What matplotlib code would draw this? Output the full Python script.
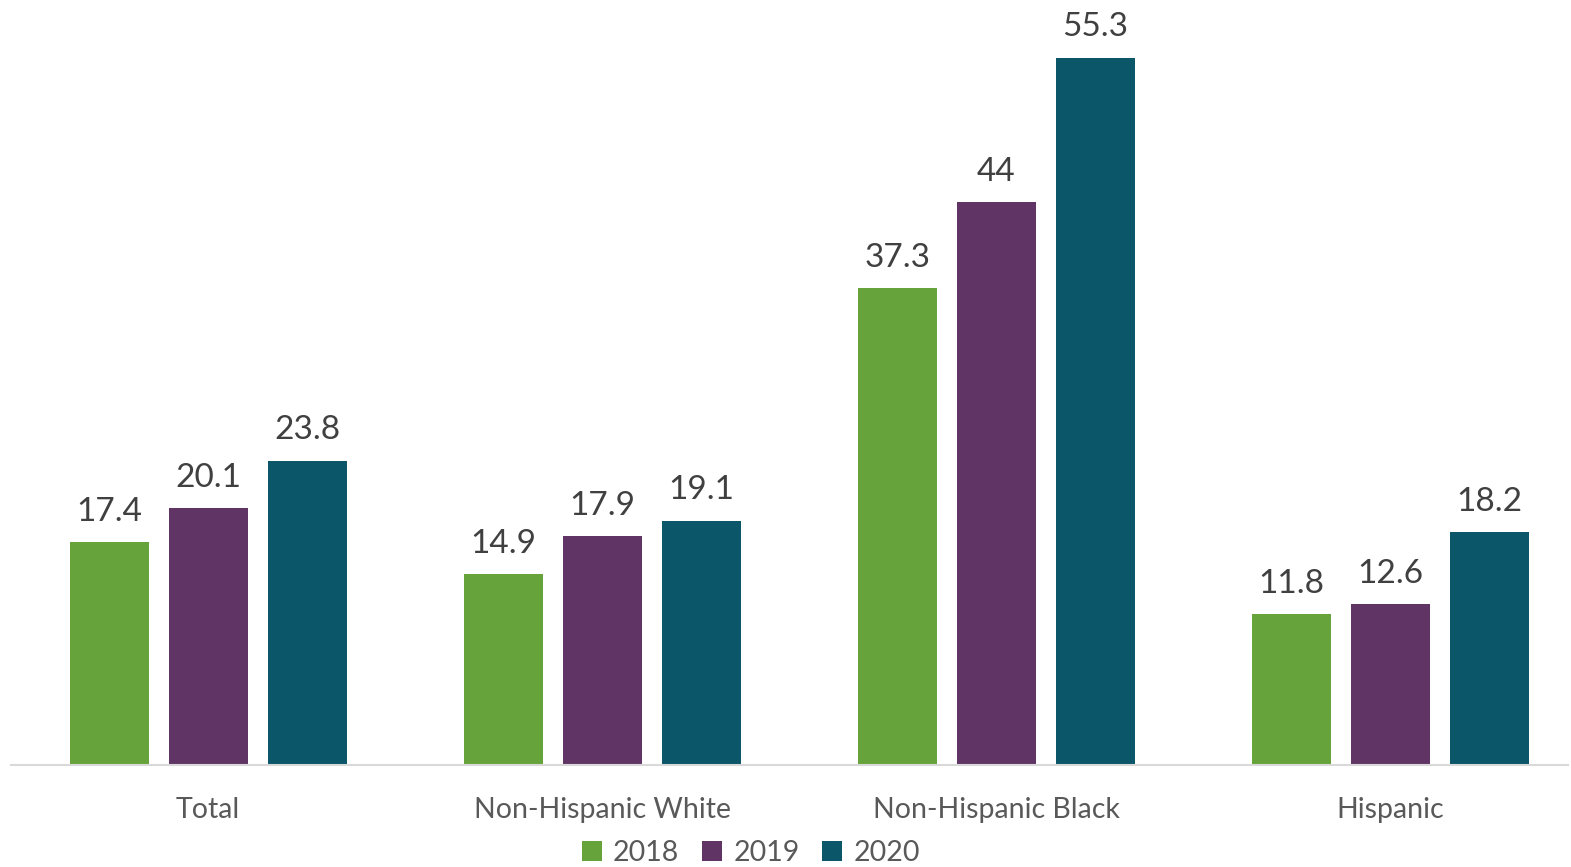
import numpy as np
import matplotlib.pyplot as plt

categories = ["Total", "Non-Hispanic White", "Non-Hispanic Black", "Hispanic"]
years = ["2018", "2019", "2020"]
v2018 = [17.4, 14.9, 37.3, 11.8]
v2019 = [20.1, 17.9, 44, 12.6]
v2020 = [23.8, 19.1, 55.3, 18.2]
colors = ["#66A33A", "#603565", "#0B5668"]

plt.rcParams['font.family'] = ['Lato', 'DejaVu Sans']

fig = plt.figure(figsize=(15.71, 8.67), dpi=100)
ax = fig.add_axes([11 / 1571, 1 - 765 / 867, 1557 / 1571, 765 / 867])

x = np.arange(len(categories))
w = 79 / 394
step = 99 / 394
for i, (vals, yr, c) in enumerate(zip([v2018, v2019, v2020], years, colors)):
    bars = ax.bar(x + (i - 1) * step, vals, w, color=c, label=yr, zorder=2)
    labels = [f"{v:g}" for v in vals]
    ax.bar_label(bars, labels=labels, padding=11, fontsize=24, color="#404040")

ax.set_xlim(-0.5, 3.45)
ax.set_ylim(0, 59.8)
ax.set_xticks(x)
ax.set_xticklabels(categories, fontsize=20.5, color="#595959")
ax.tick_params(axis='x', length=0, pad=23)
ax.set_yticks([])
for s in ["top", "right", "left"]:
    ax.spines[s].set_visible(False)
ax.spines["bottom"].set_color("#D9D9D9")
ax.spines["bottom"].set_linewidth(1.5)

leg = fig.legend(loc="lower center", bbox_to_anchor=(0.478, -0.028), ncol=3, frameon=False,
                 fontsize=20.5, handlelength=0.7, handleheight=0.7, handletextpad=0.4,
                 columnspacing=0.8)
for t in leg.get_texts():
    t.set_color("#595959")

fig.savefig("out.png", dpi=100)
